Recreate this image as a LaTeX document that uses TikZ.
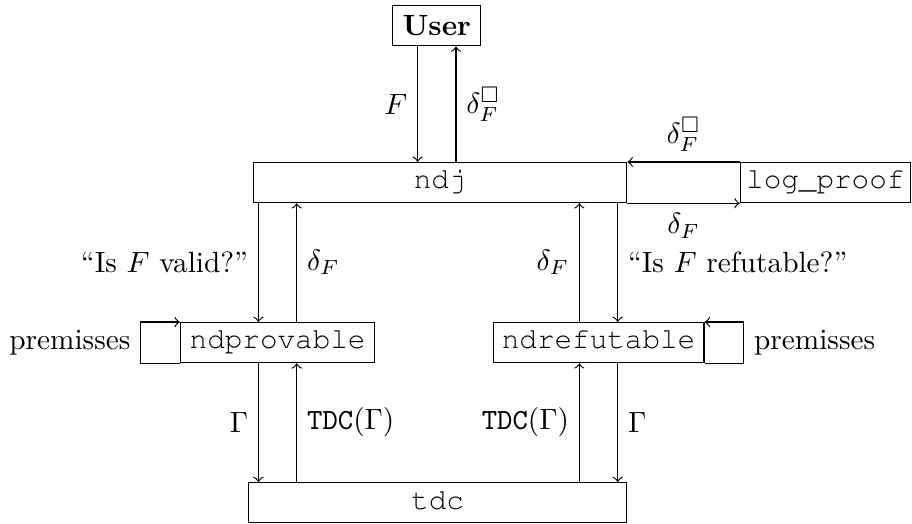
\documentclass[tikz,border=0pt]{standalone}
\usepackage{amsmath}
\usepackage{amssymb}
\usetikzlibrary{calc}

\newcommand{\boxfont}{\fontencoding{T1}\fontfamily{pcr}\selectfont}

\tikzset{
  proc/.style={draw,font=\boxfont,minimum height=0.48cm,inner sep=2pt,
    text height=1.5ex,text depth=0.5ex},
  lbl/.style={midway}
}

\begin{document}
\begin{tikzpicture}
  \useasboundingbox (0,0) rectangle (10.94,6.28);
  % --- Kaesten ---
  \node[draw,font=\bfseries,minimum height=0.47cm] (user) at (5.24,5.97) {User};
  \node[proc,minimum width=4.48cm] (ndj) at (5.28,4.09) {ndj};
  \node[proc,minimum width=2.01cm] (logp) at (9.90,4.09) {log\_proof};
  \node[proc,minimum width=2.33cm] (prov) at (3.33,2.17) {ndprovable};
  \node[proc,minimum width=2.53cm] (refu) at (7.18,2.17) {ndrefutable};
  \node[proc,minimum width=4.53cm] (tdc) at (5.25,0.25) {tdc};
  % --- User <-> ndj ---
  \draw[->] ([xshift=-0.23cm]user.south) -- ([xshift=-0.23cm]user.south |- ndj.north) node[lbl,left] {$F$};
  \draw[->] ([xshift=0.23cm]user.south |- ndj.north) -- ([xshift=0.23cm]user.south) node[lbl,right] {$\delta_F^{\square}$};
  % --- ndj <-> log_proof ---
  \draw[->] (logp.north west) -- (ndj.north east) node[lbl,above] {$\delta_F^{\square}$};
  \draw[->] (ndj.south east) -- (logp.south west) node[lbl,below] {$\delta_F$};
  % --- ndj <-> ndprovable / ndrefutable ---
  \draw[->] ([xshift=-0.23cm]prov.north |- ndj.south) -- ([xshift=-0.23cm]prov.north) node[lbl,left] {``Is $F$ valid?''};
  \draw[->] ([xshift=0.23cm]prov.north) -- ([xshift=0.23cm]prov.north |- ndj.south) node[lbl,right] {$\delta_F$};
  \draw[->] ([xshift=-0.23cm]refu.north) -- ([xshift=-0.23cm]refu.north |- ndj.south) node[lbl,left] {$\delta_F$};
  \draw[->] ([xshift=0.23cm]refu.north |- ndj.south) -- ([xshift=0.23cm]refu.north) node[lbl,right] {``Is $F$ refutable?''};
  % --- premisses ---
  \draw[->] (prov.south west) -- ++(-0.47,0) |- node[pos=0.25,left] (premL) {premisses} (prov.north west);
  \draw[->] (refu.south east) -- ++(0.47,0) |- node[pos=0.25,right] (premR) {premisses} (refu.north east);
  % --- ndprovable / ndrefutable <-> tdc ---
  \draw[->] ([xshift=-0.23cm]prov.south) -- ([xshift=-0.23cm]prov.south |- tdc.north) node[lbl,left] {$\Gamma$};
  \draw[->] ([xshift=0.23cm]prov.south |- tdc.north) -- ([xshift=0.23cm]prov.south) node[lbl,right] {$\mathtt{TDC}(\Gamma)$};
  \draw[->] ([xshift=-0.23cm]refu.south |- tdc.north) -- ([xshift=-0.23cm]refu.south) node[lbl,left] {$\mathtt{TDC}(\Gamma)$};
  \draw[->] ([xshift=0.23cm]refu.south) -- ([xshift=0.23cm]refu.south |- tdc.north) node[lbl,right] {$\Gamma$};
\end{tikzpicture}
\end{document}
